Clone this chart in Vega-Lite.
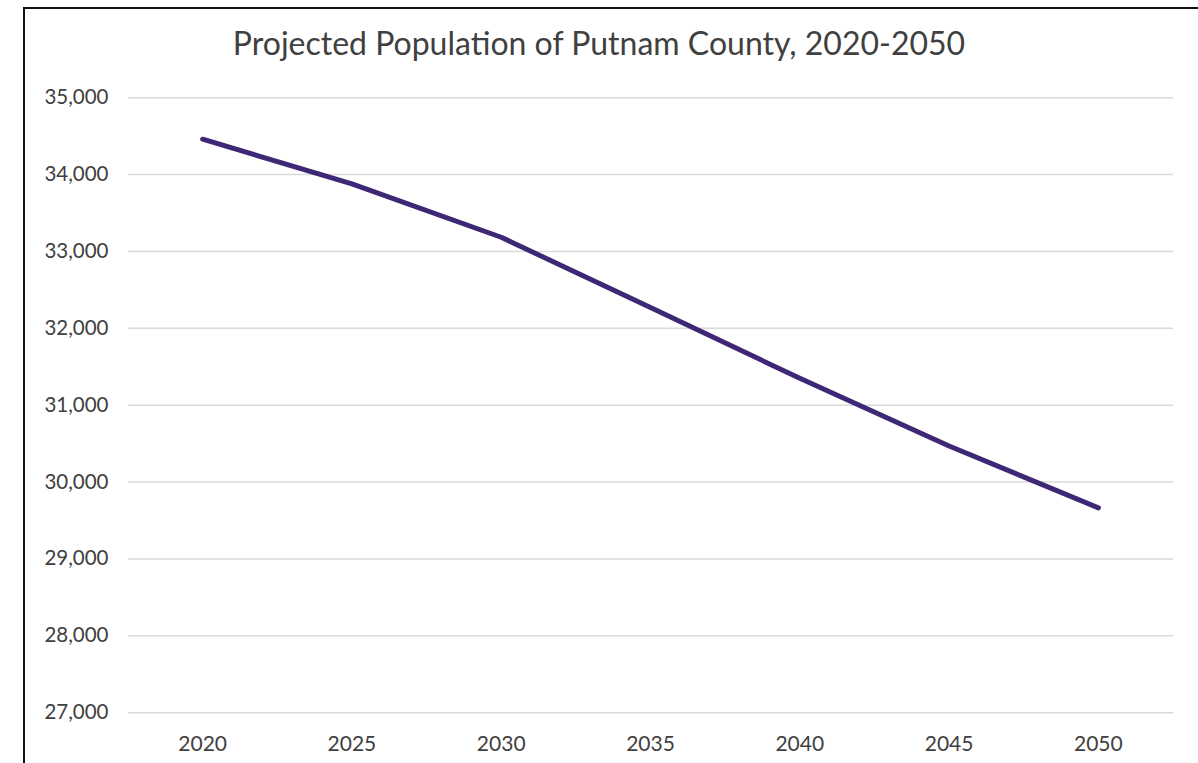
{
  "$schema": "https://vega.github.io/schema/vega-lite/v6.json",
  "width": 1176,
  "height": 757,
  "autosize": {"type": "none"},
  "padding": {"left": 24, "top": 8, "right": -2, "bottom": -2},
  "background": "white",
  "config": {
    "view": {"stroke": "#111111", "strokeWidth": 2},
    "font": "Lato"
  },
  "title": {
    "text": "Projected Population of Putnam County, 2020-2050",
    "font": "Lato",
    "fontSize": 32,
    "fontWeight": "normal",
    "color": "#404040",
    "anchor": "middle",
    "frame": "group",
    "baseline": "alphabetic",
    "offset": -79,
    "dx": -13
  },
  "datasets": {
    "pop": [
      {"year": "2020", "population": 34460},
      {"year": "2025", "population": 33880},
      {"year": "2030", "population": 33185},
      {"year": "2035", "population": 32270},
      {"year": "2040", "population": 31350},
      {"year": "2045", "population": 30470},
      {"year": "2050", "population": 29665}
    ],
    "grid": [
      {"v": 27000, "a": "2020", "b": "2050"},
      {"v": 28000, "a": "2020", "b": "2050"},
      {"v": 29000, "a": "2020", "b": "2050"},
      {"v": 30000, "a": "2020", "b": "2050"},
      {"v": 31000, "a": "2020", "b": "2050"},
      {"v": 32000, "a": "2020", "b": "2050"},
      {"v": 33000, "a": "2020", "b": "2050"},
      {"v": 34000, "a": "2020", "b": "2050"},
      {"v": 35000, "a": "2020", "b": "2050"}
    ]
  },
  "layer": [
    {
      "data": {"name": "grid"},
      "mark": {"type": "rule", "color": "#d9d9d9", "strokeWidth": 1.5},
      "encoding": {
        "x": {"field": "a", "type": "ordinal", "bandPosition": 0},
        "x2": {"field": "b", "bandPosition": 1},
        "y": {"field": "v", "type": "quantitative"}
      }
    },
    {
      "data": {"name": "pop"},
      "mark": {"type": "line", "color": "#3e2876", "strokeWidth": 5, "strokeCap": "round", "strokeJoin": "round"},
      "encoding": {
        "x": {
          "field": "year",
          "type": "ordinal",
          "scale": {
            "type": "band",
            "domain": ["2020", "2025", "2030", "2035", "2040", "2045", "2050"],
            "paddingInner": 0,
            "paddingOuter": 0.4387,
            "align": 0.794
          },
          "axis": {
            "title": null,
            "labelAngle": 0,
            "labelAlign": "center",
            "bandPosition": 0.5,
            "domain": false,
            "ticks": false,
            "grid": false,
            "labelFontSize": 21,
            "labelColor": "#404040",
            "labelBaseline": "alphabetic",
            "labelPadding": 0,
            "offset": -15
          }
        },
        "y": {
          "field": "population",
          "type": "quantitative",
          "scale": {"domain": [26320, 36167], "nice": false, "zero": false},
          "axis": {
            "title": null,
            "values": [27000, 28000, 29000, 30000, 31000, 32000, 33000, 34000, 35000],
            "format": ",.0f",
            "domain": false,
            "ticks": false,
            "grid": false,
            "labelFontSize": 20.5,
            "labelColor": "#404040",
            "labelPadding": 0,
            "offset": -84
          }
        }
      }
    }
  ]
}
